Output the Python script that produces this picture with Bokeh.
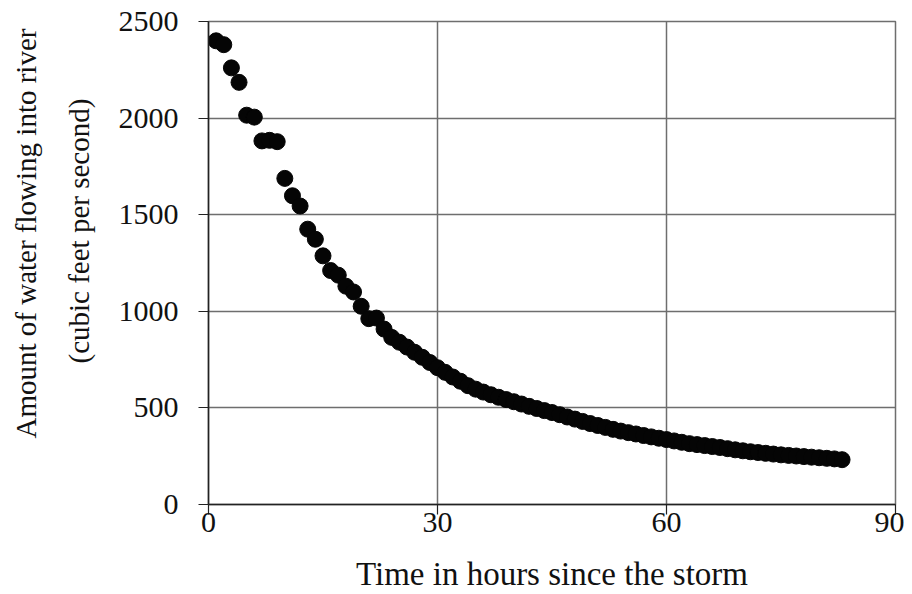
from bokeh.plotting import figure
from bokeh.models import Range1d, Title, FixedTicker
from bokeh.embed import file_html
from bokeh.resources import INLINE

hours = list(range(1, 84))
flow = [
    2400, 2380, 2260, 2185, 2015, 2005, 1882, 1885, 1878, 1688,
    1598, 1545, 1425, 1373, 1287, 1211, 1187, 1130, 1100, 1026,
    962, 965, 908, 865, 840, 815, 788, 762, 735, 708,
    684, 660, 638, 615, 597, 582, 568, 555, 543, 532,
    520, 508, 497, 486, 476, 465, 453, 442, 430, 419,
    409, 399, 389, 380, 372, 365, 357, 350, 343, 336,
    329, 322, 315, 310, 305, 300, 295, 289, 283, 278,
    273, 269, 265, 261, 257, 254, 251, 248, 245, 242,
    239, 236, 232,
]
x_ticks = [0, 30, 60, 90]
y_ticks = [0, 500, 1000, 1500, 2000, 2500]
x_title = "Time in hours since the storm"
y_title_1 = "Amount of water flowing into river"
y_title_2 = "(cubic feet per second)"

FONT = "Liberation Serif"
GRID = "#6e6e6e"

p = figure(width=904, height=594, output_backend="svg", toolbar_location=None,
           x_range=Range1d(0, 90), y_range=Range1d(0, 2500),
           min_border_left=208, min_border_right=9, min_border_top=21, min_border_bottom=60)
p.background_fill_color = "white"
p.border_fill_color = "white"
p.outline_line_color = GRID
p.outline_line_width = 1.5

p.xaxis.ticker = FixedTicker(ticks=x_ticks)
p.yaxis.ticker = FixedTicker(ticks=y_ticks)
p.xaxis.minor_tick_line_color = None
p.yaxis.minor_tick_line_color = None
for ax in (p.xaxis, p.yaxis):
    ax.axis_line_color = "#222222"
    ax.axis_line_width = 1.5
    ax.major_tick_line_color = "#222222"
    ax.major_tick_line_width = 1.2
    ax.major_tick_out = 10
    ax.major_tick_in = 0
    ax.major_label_text_font = FONT
    ax.major_label_text_font_size = "30px"
    ax.major_label_text_color = "#111111"
p.yaxis.major_label_standoff = 20
p.xaxis.major_label_standoff = -2
p.xaxis.axis_label = x_title
p.xaxis.axis_label_text_font = FONT
p.xaxis.axis_label_text_font_size = "33px"
p.xaxis.axis_label_text_font_style = "normal"
p.xaxis.axis_label_text_color = "#111111"
p.xaxis.axis_label_standoff = 21

p.xgrid.grid_line_color = GRID
p.ygrid.grid_line_color = GRID
p.xgrid.grid_line_width = 1.5
p.ygrid.grid_line_width = 1.5

p.scatter(hours, flow, size=16, fill_color="#050505", line_color="#050505")

for txt, sd, off, va in ((y_title_2, 38, 141, "top"), (y_title_1, 3, 66, "bottom")):
    p.add_layout(Title(text=txt, align="left", offset=off, standoff=sd, vertical_align=va,
                       text_font=FONT, text_font_size="29px", text_font_style="normal",
                       text_color="#111111"), "left")

open("out.html", "w").write(file_html(p, INLINE))
